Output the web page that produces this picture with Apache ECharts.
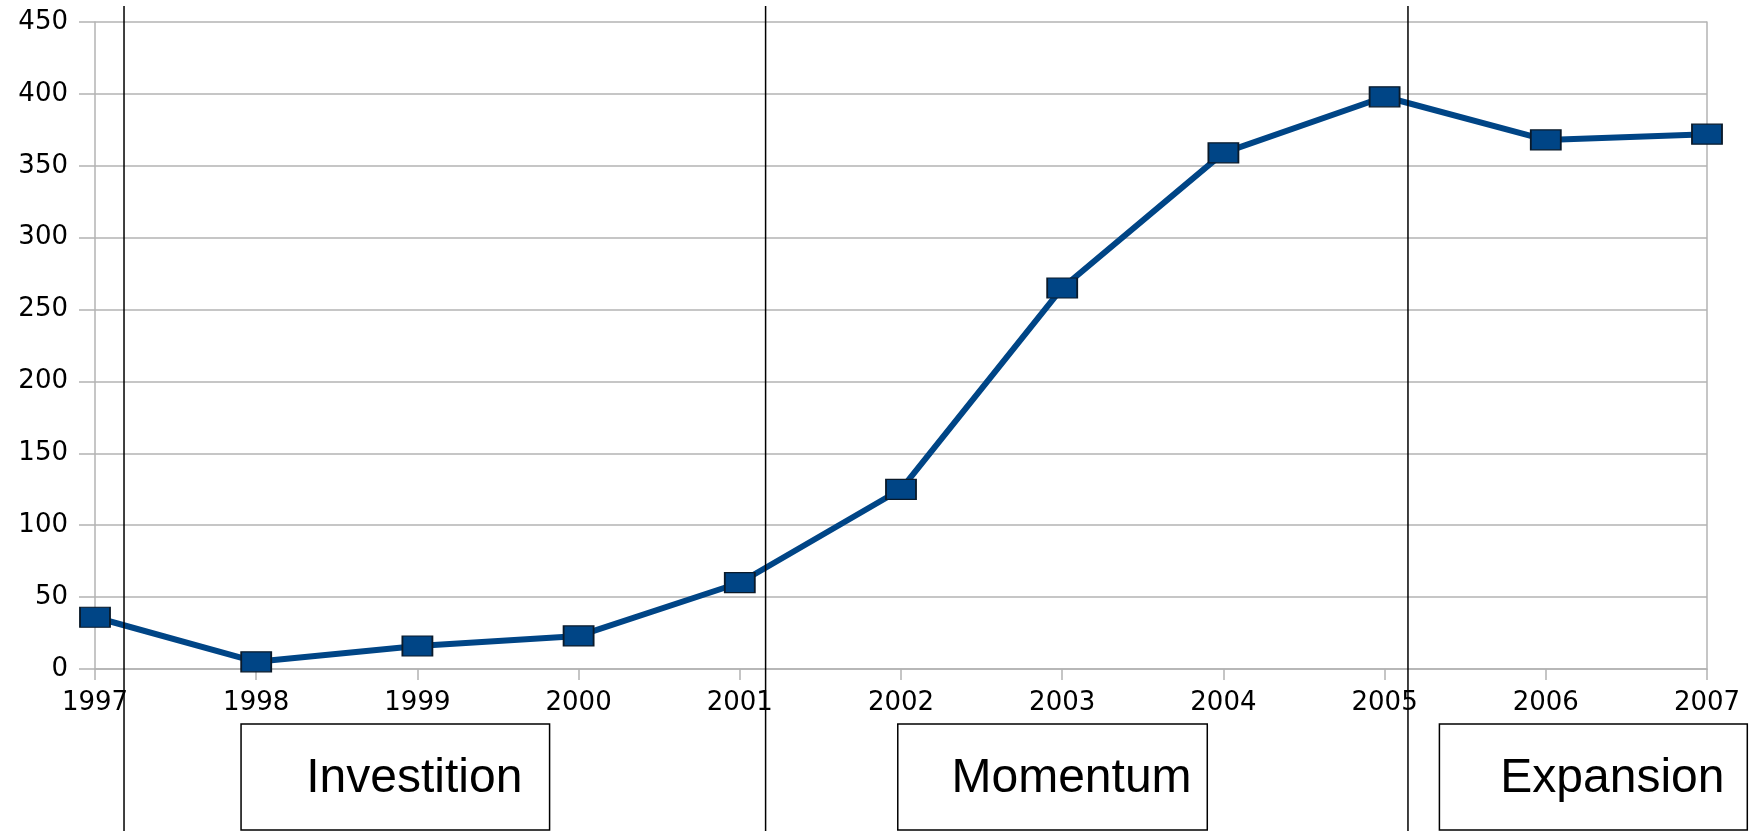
<!DOCTYPE html>
<html>
<head>
<meta charset="utf-8">
<script src="https://cdn.jsdelivr.net/npm/echarts@6/dist/echarts.min.js"></script>
<style>
html,body{margin:0;padding:0;background:#fff;}
#chart{width:1760px;height:831px;}
</style>
</head>
<body>
<div id="chart"></div>
<script>
const years = [1997, 1998, 1999, 2000, 2001, 2002, 2003, 2004, 2005, 2006, 2007];
const values = [36, 5, 16, 23, 60, 125, 265, 359, 398, 368, 372];
const phaseDividers = [1997.18, 2001.16, 2005.145];
const phaseLabels = ['Investition', 'Momentum', 'Expansion'];
const phaseStarts = [1997.906, 2001.98, 2005.34];
const phaseEnds = [1999.82, 2003.90, 2007.25];

const chart = echarts.init(document.getElementById('chart'), null, {renderer: 'canvas'});
const gridColor = '#b3b3b3';
const axisFont = {fontFamily: 'DejaVu Sans', fontSize: 26, color: '#000'};

chart.setOption({
  animation: false,
  backgroundColor: '#fff',
  grid: {left: 95, right: 53, top: 22, bottom: 162, containLabel: false},
  xAxis: {
    type: 'value', min: 1997, max: 2007, interval: 1,
    axisLine: {show: true, lineStyle: {color: gridColor, width: 1.5}},
    axisTick: {show: true, length: 11, lineStyle: {color: gridColor, width: 1.5}},
    axisLabel: Object.assign({margin: 21, formatter: v => String(v)}, axisFont),
    splitLine: {show: false}
  },
  yAxis: [{
    type: 'value', min: 0, max: 450, interval: 50,
    axisLine: {show: true, lineStyle: {color: gridColor, width: 1.5}},
    axisTick: {show: true, length: 16, lineStyle: {color: gridColor, width: 1.5}},
    axisLabel: Object.assign({margin: 27}, axisFont),
    splitLine: {show: true, lineStyle: {color: gridColor, width: 1.5}}
  }, {
    type: 'value', min: 0, max: 450, interval: 50, position: 'right',
    axisLine: {show: true, lineStyle: {color: gridColor, width: 1.5}},
    axisTick: {show: false}, axisLabel: {show: false}, splitLine: {show: false}
  }],
  series: [{
    type: 'line',
    data: years.map((y, i) => [y, values[i]]),
    symbol: 'rect',
    symbolSize: [30, 20],
    lineStyle: {color: '#004586', width: 6},
    itemStyle: {color: '#004586', borderColor: '#0a1a2a', borderWidth: 1.5},
    z: 5
  }]
});

function drawOverlay() {
  const els = [];
  phaseDividers.forEach(yr => {
    const x = chart.convertToPixel({xAxisIndex: 0}, yr);
    els.push({type: 'line', shape: {x1: x, y1: 6, x2: x, y2: 831}, style: {stroke: '#000', lineWidth: 1.5}, z: 10});
  });
  phaseLabels.forEach((lab, i) => {
    const x1 = chart.convertToPixel({xAxisIndex: 0}, phaseStarts[i]);
    const x2 = chart.convertToPixel({xAxisIndex: 0}, phaseEnds[i]);
    els.push({type: 'rect', shape: {x: x1, y: 724, width: x2 - x1, height: 106},
      style: {fill: '#fff', stroke: '#000', lineWidth: 1.5}, z: 11});
    els.push({type: 'text', x: (x1 + x2) / 2 + 19, y: 779,
      style: {text: lab, fontFamily: 'Liberation Sans', fontSize: 48, fill: '#000', align: 'center', verticalAlign: 'middle'}, z: 12});
  });
  chart.setOption({graphic: els});
}
drawOverlay();
</script>
</body>
</html>
